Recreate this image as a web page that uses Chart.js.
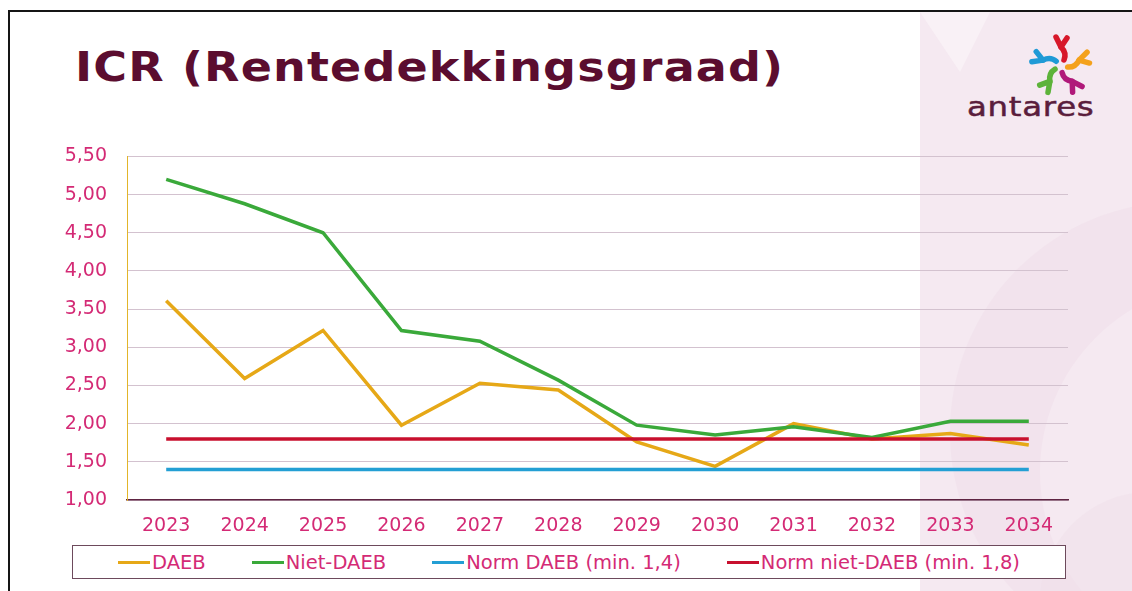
<!DOCTYPE html>
<html>
<head>
<meta charset="utf-8">
<script src="https://cdn.jsdelivr.net/npm/chart.js@4.4.0/dist/chart.umd.min.js"></script>
<style>
  body { margin: 0; width: 1132px; height: 591px; position: relative; overflow: hidden; background: #fff; font-family: "DejaVu Sans", Verdana, sans-serif; }
  #panel { position: absolute; left: 920px; top: 12px; right: 0; bottom: 0; background: #f5e9f1; }
  #panel svg { position: absolute; left: 0; top: 0; }
  #frame { position: absolute; left: 8px; top: 10px; right: -4px; bottom: -4px; border-left: 2px solid #151515; border-top: 2px solid #151515; }
  #title { position: absolute; left: 75px; top: 47px; margin: 0; font-size: 40px; line-height: 40px; font-weight: bold; color: #5b0d2f; letter-spacing: 1px; white-space: nowrap; transform: scaleX(1.15); transform-origin: 0 0; }
  #logo { position: absolute; left: 1022px; top: 30px; }
  #brand { position: absolute; left: 967px; top: 93px; font-size: 27px; line-height: 27px; color: #5a1d3c; letter-spacing: 0.6px; transform: scaleX(1.2); transform-origin: 0 0; -webkit-text-stroke: 0.5px #5a1d3c; }
  #chart { position: absolute; left: 0; top: 125px; }
  #legend { position: absolute; left: 72px; top: 545px; width: 992px; height: 32px; border: 1.5px solid #6d4a5c; background: #fff;
            display: flex; justify-content: center; align-items: center; gap: 46px; font-size: 19.5px; color: #d42a75; }
  #legend .item { display: flex; align-items: center; white-space: nowrap; }
  #legend .swatch { display: inline-block; width: 32px; height: 3px; margin-right: 2px; }
</style>
</head>
<body>
<div id="panel">
  <svg width="212" height="579">
    <path d="M0,0 L70,0 L40,60 Z" fill="#f9f1f6"/>
    <circle cx="260" cy="420" r="230" fill="#efdee9" opacity="0.5"/>
    <circle cx="310" cy="460" r="190" fill="#f5e9f1"/>
    <circle cx="230" cy="590" r="110" fill="#f0e0ea" opacity="0.5"/>
  </svg>
</div>
<div id="frame"></div>
<h1 id="title">ICR (Rentedekkingsgraad)</h1>
<svg id="logo" width="78" height="72" viewBox="-39 -36 78 72">
  <g fill="none" stroke-width="5.5" stroke-linecap="round">
    <g stroke="#d7182a"><path d="M3,-6 Q6,-13 0,-19"/><path d="M0,-19 L-5,-29 M0,-19 L6,-28"/></g>
    <g stroke="#f4a11b" transform="rotate(72)"><path d="M3,-6 Q6,-13 0,-19"/><path d="M0,-19 L-5,-29 M0,-19 L6,-28"/></g>
    <g stroke="#b0197a" transform="rotate(144)"><path d="M3,-6 Q6,-13 0,-19"/><path d="M0,-19 L-5,-29 M0,-19 L6,-28"/></g>
    <g stroke="#5db33a" transform="rotate(216)"><path d="M3,-6 Q6,-13 0,-19"/><path d="M0,-19 L-5,-29 M0,-19 L6,-28"/></g>
    <g stroke="#1f9ad6" transform="rotate(288)"><path d="M3,-6 Q6,-13 0,-19"/><path d="M0,-19 L-5,-29 M0,-19 L6,-28"/></g>
  </g>
</svg>
<div id="brand">antares</div>
<canvas id="chart" width="1132" height="415"></canvas>
<div id="legend"></div>

<script>
// jaren op de x-as
const jaren = ['2023', '2024', '2025', '2026', '2027', '2028', '2029', '2030', '2031', '2032', '2033', '2034'];

// ICR per jaar
const daeb = [3.61, 2.59, 3.22, 1.98, 2.53, 2.44, 1.76, 1.44, 2.00, 1.80, 1.87, 1.72];
const nietDaeb = [5.20, 4.88, 4.50, 3.22, 3.08, 2.57, 1.98, 1.85, 1.96, 1.82, 2.03, 2.03];
const normDaeb = [1.4, 1.4, 1.4, 1.4, 1.4, 1.4, 1.4, 1.4, 1.4, 1.4, 1.4, 1.4];
const normNietDaeb = [1.8, 1.8, 1.8, 1.8, 1.8, 1.8, 1.8, 1.8, 1.8, 1.8, 1.8, 1.8];

const yMin = 1;
const yMax = 5.5;
const yStap = 0.5;

const tickKleur = '#d42a75';

const htmlLegend = {
  id: 'htmlLegend',
  afterUpdate(chart) {
    const box = document.getElementById('legend');
    box.innerHTML = '';
    chart.data.datasets.forEach(ds => {
      const item = document.createElement('span');
      item.className = 'item';
      const sw = document.createElement('span');
      sw.className = 'swatch';
      sw.style.background = ds.borderColor;
      item.appendChild(sw);
      item.appendChild(document.createTextNode(ds.label));
      box.appendChild(item);
    });
  }
};

const ctx = document.getElementById('chart');

new Chart(ctx, {
  type: 'line',
  data: {
    labels: jaren,
    datasets: [
      { label: 'DAEB', data: daeb, borderColor: '#e6a817', order: 4 },
      { label: 'Niet-DAEB', data: nietDaeb, borderColor: '#3aa93a', order: 3 },
      { label: 'Norm DAEB (min. 1,4)', data: normDaeb, borderColor: '#239fd4', order: 2 },
      { label: 'Norm niet-DAEB (min. 1,8)', data: normNietDaeb, borderColor: '#c8102e', order: 1 }
    ]
  },
  options: {
    responsive: false,
    devicePixelRatio: 1,
    animation: false,
    layout: { padding: { left: 8, right: 64, top: 2, bottom: 0 } },
    elements: {
      line: { borderWidth: 3.5, tension: 0 },
      point: { radius: 0 }
    },
    plugins: {
      legend: { display: false },
      tooltip: { enabled: false }
    },
    scales: {
      x: {
        offset: true,
        grid: { display: false, drawTicks: false },
        border: { color: '#5e2442', width: 1.5 },
        ticks: { color: tickKleur, padding: 15, font: { family: 'DejaVu Sans', size: 19 } },
        afterFit: s => { s.height = 40; }
      },
      y: {
        min: yMin,
        max: yMax,
        grid: { color: '#d3c2cf', lineWidth: 1, drawTicks: false },
        border: { color: '#e2b52a', width: 1 },
        ticks: {
          stepSize: yStap,
          color: tickKleur,
          padding: 20,
          font: { family: 'DejaVu Sans', size: 19 },
          callback: v => v.toFixed(2).replace('.', ',')
        },
        afterFit: s => { s.width = 119; }
      }
    }
  },
  plugins: [htmlLegend]
});
</script>
</body>
</html>
